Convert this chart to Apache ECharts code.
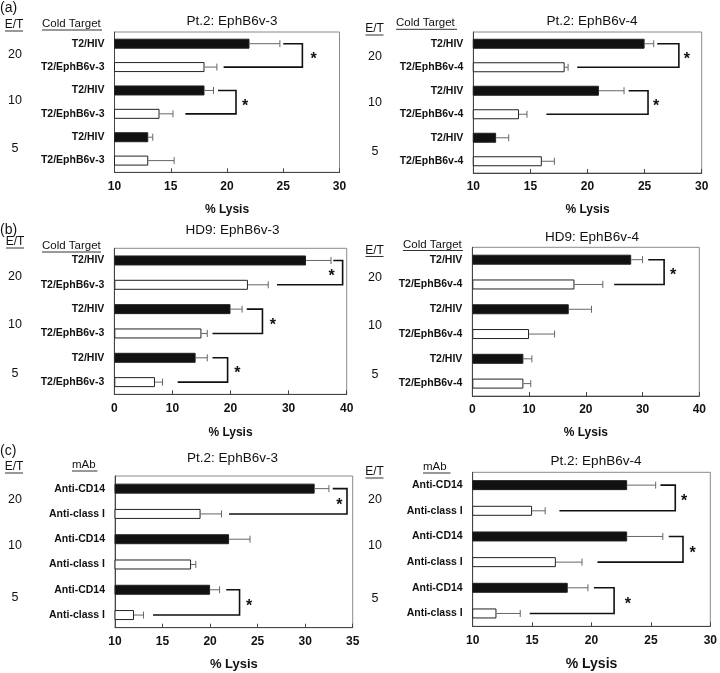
<!DOCTYPE html>
<html>
<head>
<meta charset="utf-8">
<script src="https://cdn.jsdelivr.net/npm/echarts@6/dist/echarts.min.js"></script>
<style>html,body{margin:0;padding:0;background:#fff}#c{width:720px;height:673px}</style>
</head>
<body>
<div id="c"></div>
<script>
// ---------- DATA ----------
const etLevels = ['20', '10', '5'];
const targetsV3 = ['T2/HIV', 'T2/EphB6v-3', 'T2/HIV', 'T2/EphB6v-3', 'T2/HIV', 'T2/EphB6v-3'];
const targetsV4 = ['T2/HIV', 'T2/EphB6v-4', 'T2/HIV', 'T2/EphB6v-4', 'T2/HIV', 'T2/EphB6v-4'];
const mAbs = ['Anti-CD14', 'Anti-class I', 'Anti-CD14', 'Anti-class I', 'Anti-CD14', 'Anti-class I'];

// (a) Pt.2: EphB6v-3
const aLeftLysis = [22, 18, 18, 14, 13, 13];
const aLeftErr = [2.7, 1.1, 0.8, 1.2, 0.4, 2.3];
// bracket: [topRow, bottomRow, xTopStart, xVertical, xBottomStart, xStar]
const aLeftBrackets = [[0, 1, 25.0, 26.7, 19.7, 27.7], [2, 3, 19.2, 20.8, 16.3, 21.6]];
// (a) Pt.2: EphB6v-4
const aRightLysis = [25, 18, 21, 14, 12, 16];
const aRightErr = [0.8, 0.3, 2.2, 0.7, 1.1, 1.1];
const aRightBrackets = [[0, 1, 26.1, 28.0, 19.1, 28.7], [2, 3, 23.6, 25.3, 16.4, 26.0]];
// (b) HD9: EphB6v-3
const bLeftLysis = [33, 23, 20, 15, 14, 7];
const bLeftErr = [4.3, 3.5, 2.0, 1.0, 2.0, 1.3];
const bLeftBrackets = [[0, 1, 37.7, 39.3, 28.0, 37.4], [2, 3, 22.8, 25.5, 16.9, 27.3], [4, 5, 16.9, 19.5, 10.9, 21.2]];
// (b) HD9: EphB6v-4
const bRightLysis = [28, 18, 17, 10, 9, 9];
const bRightErr = [2.0, 5.0, 4.0, 4.5, 1.5, 1.3];
const bRightBrackets = [[0, 1, 31.0, 33.8, 25.0, 35.4]];
// (c) Pt.2: EphB6v-3 (mAb)
const cLeftLysis = [31, 19, 22, 18, 20, 12];
const cLeftErr = [1.5, 2.2, 2.2, 0.5, 1.0, 1.0];
const cLeftBrackets = [[0, 1, 32.9, 34.4, 22.0, 33.6], [4, 5, 21.7, 23.1, 14.0, 24.1]];
// (c) Pt.2: EphB6v-4 (mAb)
const cRightLysis = [23, 15, 23, 17, 18, 12];
const cRightErr = [2.4, 1.1, 3.0, 2.2, 1.7, 2.0];
const cRightBrackets = [[0, 1, 25.8, 27.05, 17.3, 27.8], [2, 3, 26.5, 27.7, 20.5, 28.5], [4, 5, 20.2, 21.9, 14.8, 23.05]];

const axisTitle = '% Lysis';

// ---------- LAYOUT ----------
const FONT = '"Liberation Sans", Arial, Helvetica, sans-serif';
const panels = [
  {cats: targetsV3, vals: aLeftLysis, err: aLeftErr, br: aLeftBrackets, min: 10, max: 30, step: 5,
   grid: {left: 114.5, top: 32, width: 225, height: 140.3}, nameGap: 31, nameSize: 12},
  {cats: targetsV4, vals: aRightLysis, err: aRightErr, br: aRightBrackets, min: 10, max: 30, step: 5,
   grid: {left: 473.3, top: 32, width: 228.4, height: 141}, nameGap: 31, nameSize: 12},
  {cats: targetsV3, vals: bLeftLysis, err: bLeftErr, br: bLeftBrackets, min: 0, max: 40, step: 10,
   grid: {left: 114.3, top: 248.3, width: 232.4, height: 146}, nameGap: 32.5, nameSize: 12},
  {cats: targetsV4, vals: bRightLysis, err: bRightErr, br: bRightBrackets, min: 0, max: 40, step: 10,
   grid: {left: 472.3, top: 247.3, width: 227, height: 148.7}, nameGap: 31, nameSize: 12},
  {cats: mAbs, vals: cLeftLysis, err: cLeftErr, br: cLeftBrackets, min: 10, max: 35, step: 5,
   grid: {left: 115, top: 476, width: 237.7, height: 151.7}, nameGap: 30, nameSize: 13},
  {cats: mAbs, vals: cRightLysis, err: cRightErr, br: cRightBrackets, min: 10, max: 30, step: 5,
   grid: {left: 472.7, top: 472.3, width: 240.3, height: 154}, nameGap: 31, nameSize: 14}
];

const grids = [], xAxes = [], yAxes = [], series = [];
panels.forEach((p, i) => {
  grids.push(Object.assign({show: true, borderColor: '#8a8a8a', borderWidth: 1, containLabel: false}, p.grid));
  xAxes.push({
    gridIndex: i, type: 'value', min: p.min, max: p.max, interval: p.step,
    axisLine: {show: true, lineStyle: {color: '#444', width: 1}},
    axisTick: {show: true, inside: true, length: 4, lineStyle: {color: '#444'}},
    splitLine: {show: false},
    axisLabel: {fontFamily: FONT, fontWeight: 'bold', fontSize: 12, color: '#111', margin: 8},
    name: axisTitle, nameLocation: 'middle', nameGap: p.nameGap,
    nameTextStyle: {fontFamily: FONT, fontWeight: 'bold', fontSize: p.nameSize, color: '#111'}
  });
  yAxes.push({
    gridIndex: i, type: 'category', data: p.cats, inverse: true,
    axisLine: {show: true, lineStyle: {color: '#444', width: 1}},
    axisTick: {show: false}, splitLine: {show: false},
    axisLabel: {fontFamily: FONT, fontWeight: 'bold', fontSize: 10.5, color: '#111', margin: 10, interval: 0}
  });
  series.push({
    type: 'bar', xAxisIndex: i, yAxisIndex: i, barWidth: 10, z: 2,
    data: p.vals.map((v, k) => ({value: v, itemStyle: {color: k % 2 === 0 ? '#111' : '#fff', borderColor: '#222', borderWidth: 1}}))
  });
  series.push({
    type: 'custom', xAxisIndex: i, yAxisIndex: i, z: 3,
    encode: {x: [1, 2], y: 0},
    data: p.vals.map((v, k) => [k, v, v + p.err[k]]),
    renderItem: function (params, api) {
      const r = api.value(0);
      const p0 = api.coord([api.value(1), r]);
      const p1 = api.coord([api.value(2), r]);
      const st = {stroke: '#666', lineWidth: 1};
      return {type: 'group', children: [
        {type: 'line', shape: {x1: p0[0], y1: p0[1], x2: p1[0], y2: p1[1]}, style: st},
        {type: 'line', shape: {x1: p1[0], y1: p1[1] - 3.5, x2: p1[0], y2: p1[1] + 3.5}, style: st}
      ]};
    }
  });
  series.push({
    type: 'custom', xAxisIndex: i, yAxisIndex: i, z: 4,
    encode: {x: [2, 3, 4, 5], y: [0, 1]},
    data: p.br,
    renderItem: function (params, api) {
      const t = api.value(0), b = api.value(1);
      const a = api.coord([api.value(2), t]);
      const v1 = api.coord([api.value(3), t]);
      const v2 = api.coord([api.value(3), b]);
      const c = api.coord([api.value(4), b]);
      const s = api.coord([api.value(5), t]);
      const midY = (v1[1] + v2[1]) / 2;
      return {type: 'group', children: [
        {type: 'polyline', shape: {points: [a, v1, v2, c]}, style: {stroke: '#111', lineWidth: 1.6, fill: null}},
        {type: 'text', x: s[0], y: midY + 4, style: {text: '*', fontFamily: FONT, fontWeight: 'bold', fontSize: 16, fill: '#111', align: 'center', verticalAlign: 'middle'}}
      ]};
    }
  });
});

// ---------- TEXT ANNOTATIONS ----------
const g = [];
function txt(x, y, text, size, weight, align) {
  g.push({type: 'text', x: x, y: y, silent: true,
    style: {text: text, fontFamily: FONT, fontSize: size, fontWeight: weight || 'normal', fill: '#111', align: align || 'center', verticalAlign: 'middle'}});
}
function uline(x1, x2, y) {
  g.push({type: 'line', silent: true, shape: {x1: x1, y1: y, x2: x2, y2: y}, style: {stroke: '#333', lineWidth: 1}});
}
// panel letters
txt(0, 8, '(a)', 14, 'normal', 'left');
txt(0, 230, '(b)', 14, 'normal', 'left');
txt(0, 451, '(c)', 14, 'normal', 'left');
// titles
txt(232, 21, 'Pt.2: EphB6v-3', 13.5);
txt(592, 21, 'Pt.2: EphB6v-4', 13.5);
txt(232.5, 230, 'HD9: EphB6v-3', 13.5);
txt(592, 237, 'HD9: EphB6v-4', 13.5);
txt(232.5, 458, 'Pt.2: EphB6v-3', 13.5);
txt(596, 461, 'Pt.2: EphB6v-4', 13.5);
// E/T headers
const etHdr = [[14, 25], [374.5, 29], [15, 242], [374.5, 250.5], [14, 467], [374.5, 472]];
etHdr.forEach(h => { txt(h[0], h[1], 'E/T', 12); uline(h[0] - 9, h[0] + 9, h[1] + 6); });
// column headers
txt(42, 24, 'Cold Target', 11.5, 'normal', 'left'); uline(42, 102, 30);
txt(396, 23.3, 'Cold Target', 11.5, 'normal', 'left'); uline(396, 457, 29.3);
txt(42, 246, 'Cold Target', 11.5, 'normal', 'left'); uline(42, 101, 252);
txt(403, 244.5, 'Cold Target', 11.5, 'normal', 'left'); uline(403, 463, 250.5);
txt(72, 465, 'mAb', 11.5, 'normal', 'left'); uline(72, 97.5, 471);
txt(423, 467, 'mAb', 11.5, 'normal', 'left'); uline(423, 450.5, 473);
// E/T levels
const etPos = [
  [15, [55, 101, 149]], [375, [57, 103, 152]],
  [15, [277, 325, 374]], [375, [278, 326, 375]],
  [15, [500, 546, 598]], [375, [500, 546, 599]]
];
etPos.forEach(e => e[1].forEach((y, k) => txt(e[0], y, etLevels[k], 12.5)));

const chart = echarts.init(document.getElementById('c'), null, {renderer: 'canvas'});
chart.setOption({
  animation: false,
  backgroundColor: '#fff',
  textStyle: {fontFamily: FONT},
  grid: grids, xAxis: xAxes, yAxis: yAxes, series: series,
  graphic: g
});
</script>
</body>
</html>
